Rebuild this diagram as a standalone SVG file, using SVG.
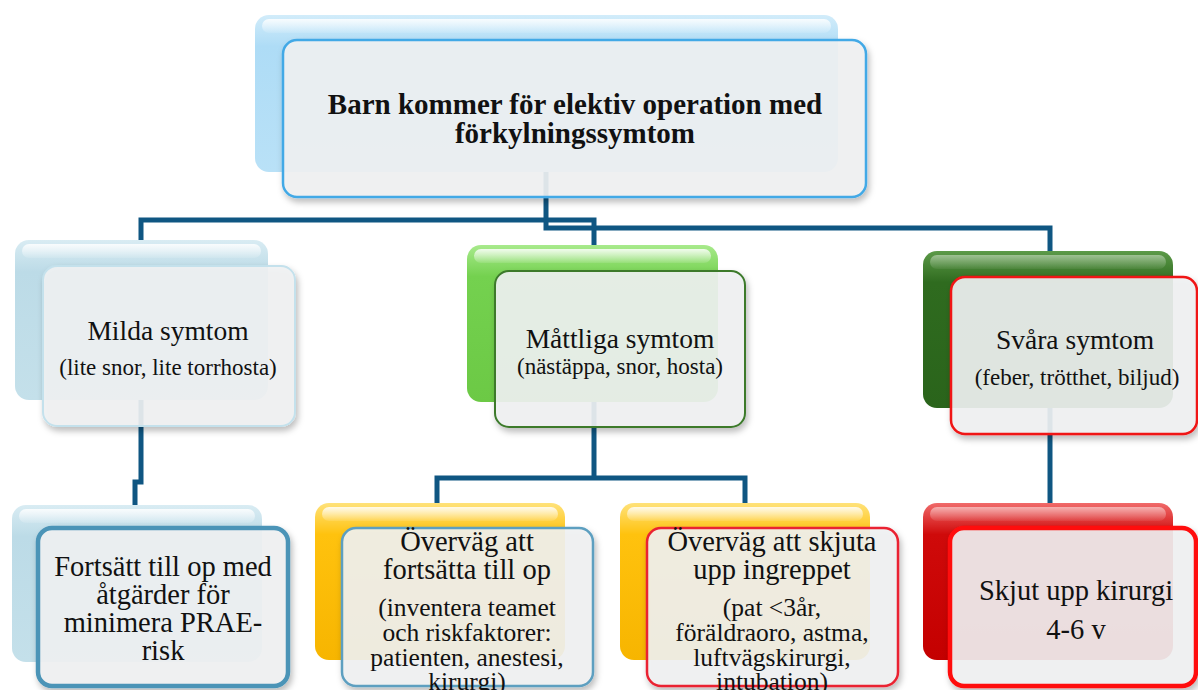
<svg xmlns="http://www.w3.org/2000/svg" width="1198" height="690" viewBox="0 0 1198 690">
<defs>
<filter id="sh" x="-10%" y="-10%" width="125%" height="130%">
<feDropShadow dx="2" dy="4" stdDeviation="3" flood-color="#000" flood-opacity="0.28"/>
</filter>
<linearGradient id="hl" x1="0" y1="0" x2="0" y2="1">
<stop offset="0" stop-color="#fff" stop-opacity="0.85"/>
<stop offset="1" stop-color="#fff" stop-opacity="0.1"/>
</linearGradient>
<linearGradient id="gBlue" x1="0" y1="0" x2="0" y2="1"><stop offset="0" stop-color="#d2ecfa"/><stop offset="0.2" stop-color="#aedcf6"/><stop offset="1" stop-color="#b9e1f7"/></linearGradient>
<linearGradient id="gPale" x1="0" y1="0" x2="0" y2="1"><stop offset="0" stop-color="#d9ecf3"/><stop offset="0.2" stop-color="#bcdbe7"/><stop offset="1" stop-color="#c4e0ea"/></linearGradient>
<linearGradient id="gGreen" x1="0" y1="0" x2="0" y2="1"><stop offset="0" stop-color="#a8ea8c"/><stop offset="0.2" stop-color="#74d14f"/><stop offset="1" stop-color="#6cc945"/></linearGradient>
<linearGradient id="gDark" x1="0" y1="0" x2="0" y2="1"><stop offset="0" stop-color="#5c9a48"/><stop offset="0.2" stop-color="#2f6b1f"/><stop offset="1" stop-color="#2a641b"/></linearGradient>
<linearGradient id="gGold" x1="0" y1="0" x2="0" y2="1"><stop offset="0" stop-color="#ffe27a"/><stop offset="0.2" stop-color="#ffc20e"/><stop offset="1" stop-color="#f7b500"/></linearGradient>
<linearGradient id="gRed" x1="0" y1="0" x2="0" y2="1"><stop offset="0" stop-color="#f06a6a"/><stop offset="0.2" stop-color="#cf0a0a"/><stop offset="1" stop-color="#c40000"/></linearGradient>
</defs>
<style>
.back{stroke:none}
.gl{fill:url(#hl)}
.front{fill:#f1f2f3;fill-opacity:0.9;filter:url(#sh)}
.conn{fill:none;stroke:#0f5682;stroke-width:5;stroke-linejoin:miter}
text{font-family:"Liberation Serif","Times New Roman",serif;fill:#111;text-anchor:middle}
.t{font-size:27.5px}
.s{font-size:23px}
.b{font-size:29px;font-weight:bold}
.m{font-size:28.5px}
.n{font-size:25.5px}
</style>

<g id="connectors">
<path class="conn" d="M546 172 V228 H1050 V255"/>
<path class="conn" d="M141 243 V220 H594 V250"/>
<path class="conn" d="M141 400 V482 H135 V507"/>
<path class="conn" d="M594 400 V478 M437 506 V478 H745 V506"/>
<path class="conn" d="M1050 408 V507"/>
</g>

<g id="top">
<rect class="back" x="255" y="15" width="583" height="157" rx="14" fill="url(#gBlue)"/>
<rect class="gl" x="262" y="19" width="569" height="14" rx="7"/>
<rect class="front" x="283" y="40" width="583" height="157" rx="14" stroke="#43a9e6" stroke-width="2.5"/>
<text class="b" x="575" y="114">Barn kommer för elektiv operation med</text>
<text class="b" x="575" y="143">förkylningssymtom</text>
</g>

<g id="milda">
<rect class="back" x="15" y="240" width="253" height="160" rx="14" fill="url(#gPale)"/>
<rect class="gl" x="22" y="244" width="239" height="14" rx="7"/>
<rect class="front" x="43" y="266" width="252" height="160" rx="14" stroke="#c4e1ec" stroke-width="2"/>
<text class="t" x="168" y="340">Milda symtom</text>
<text class="s" x="168" y="375">(lite snor, lite torrhosta)</text>
</g>

<g id="mattliga">
<rect class="back" x="467" y="245" width="251" height="157" rx="14" fill="url(#gGreen)"/>
<rect class="gl" x="474" y="249" width="237" height="14" rx="7"/>
<rect class="front" x="495" y="271" width="250" height="156" rx="14" stroke="#3c7a2c" stroke-width="2"/>
<text class="t" x="620" y="348">Måttliga symtom</text>
<text class="s" x="620" y="374">(nästäppa, snor, hosta)</text>
</g>

<g id="svara">
<rect class="back" x="923" y="251" width="250" height="157" rx="14" fill="url(#gDark)"/>
<rect class="gl" x="930" y="255" width="236" height="14" rx="7" opacity="0.5"/>
<rect class="front" x="951" y="277" width="246" height="157" rx="14" stroke="#f01414" stroke-width="2.5"/>
<text class="t" x="1075" y="349">Svåra symtom</text>
<text class="s" x="1077" y="385">(feber, trötthet, biljud)</text>
</g>

<g id="fortsatt">
<rect class="back" x="12" y="505" width="250" height="157" rx="14" fill="url(#gPale)"/>
<rect class="gl" x="19" y="509" width="236" height="14" rx="7"/>
<rect class="front" x="38" y="528" width="250" height="158" rx="14" stroke="#4b94b7" stroke-width="4.5"/>
<text class="m" x="163" y="576">Fortsätt till op med</text>
<text class="m" x="163" y="604">åtgärder för</text>
<text class="m" x="163" y="632">minimera PRAE-</text>
<text class="m" x="163" y="660">risk</text>
</g>

<g id="overvag1">
<rect class="back" x="315" y="503" width="250" height="157" rx="14" fill="url(#gGold)"/>
<rect class="gl" x="322" y="507" width="236" height="14" rx="7"/>
<rect class="front" x="342" y="528" width="251" height="158" rx="14" stroke="#5d9fc0" stroke-width="2.5"/>
<text class="m" x="467" y="551">Överväg att</text>
<text class="m" x="467" y="579">fortsätta till op</text>
<text class="n" x="467" y="616">(inventera teamet</text>
<text class="n" x="467" y="641">och riskfaktorer:</text>
<text class="n" x="467" y="666">patienten, anestesi,</text>
<text class="n" x="467" y="690">kirurgi)</text>
</g>

<g id="overvag2">
<rect class="back" x="620" y="503" width="250" height="157" rx="14" fill="url(#gGold)"/>
<rect class="gl" x="627" y="507" width="236" height="14" rx="7"/>
<rect class="front" x="647" y="528" width="251" height="158" rx="14" stroke="#ea2430" stroke-width="2.5"/>
<text class="m" x="772" y="551">Överväg att skjuta</text>
<text class="m" x="772" y="579">upp ingreppet</text>
<text class="n" x="772" y="616">(pat &lt;3år,</text>
<text class="n" x="772" y="641">föräldraoro, astma,</text>
<text class="n" x="772" y="666">luftvägskirurgi,</text>
<text class="n" x="772" y="690">intubation)</text>
</g>

<g id="skjut">
<rect class="back" x="923" y="503" width="250" height="157" rx="14" fill="url(#gRed)"/>
<rect class="gl" x="930" y="507" width="236" height="14" rx="7" opacity="0.6"/>
<rect class="front" x="950" y="528" width="246" height="158" rx="14" stroke="#ff0d0d" stroke-width="4.5"/>
<text class="m" x="1076" y="600">Skjut upp kirurgi</text>
<text class="m" x="1076" y="639">4-6 v</text>
</g>
</svg>
